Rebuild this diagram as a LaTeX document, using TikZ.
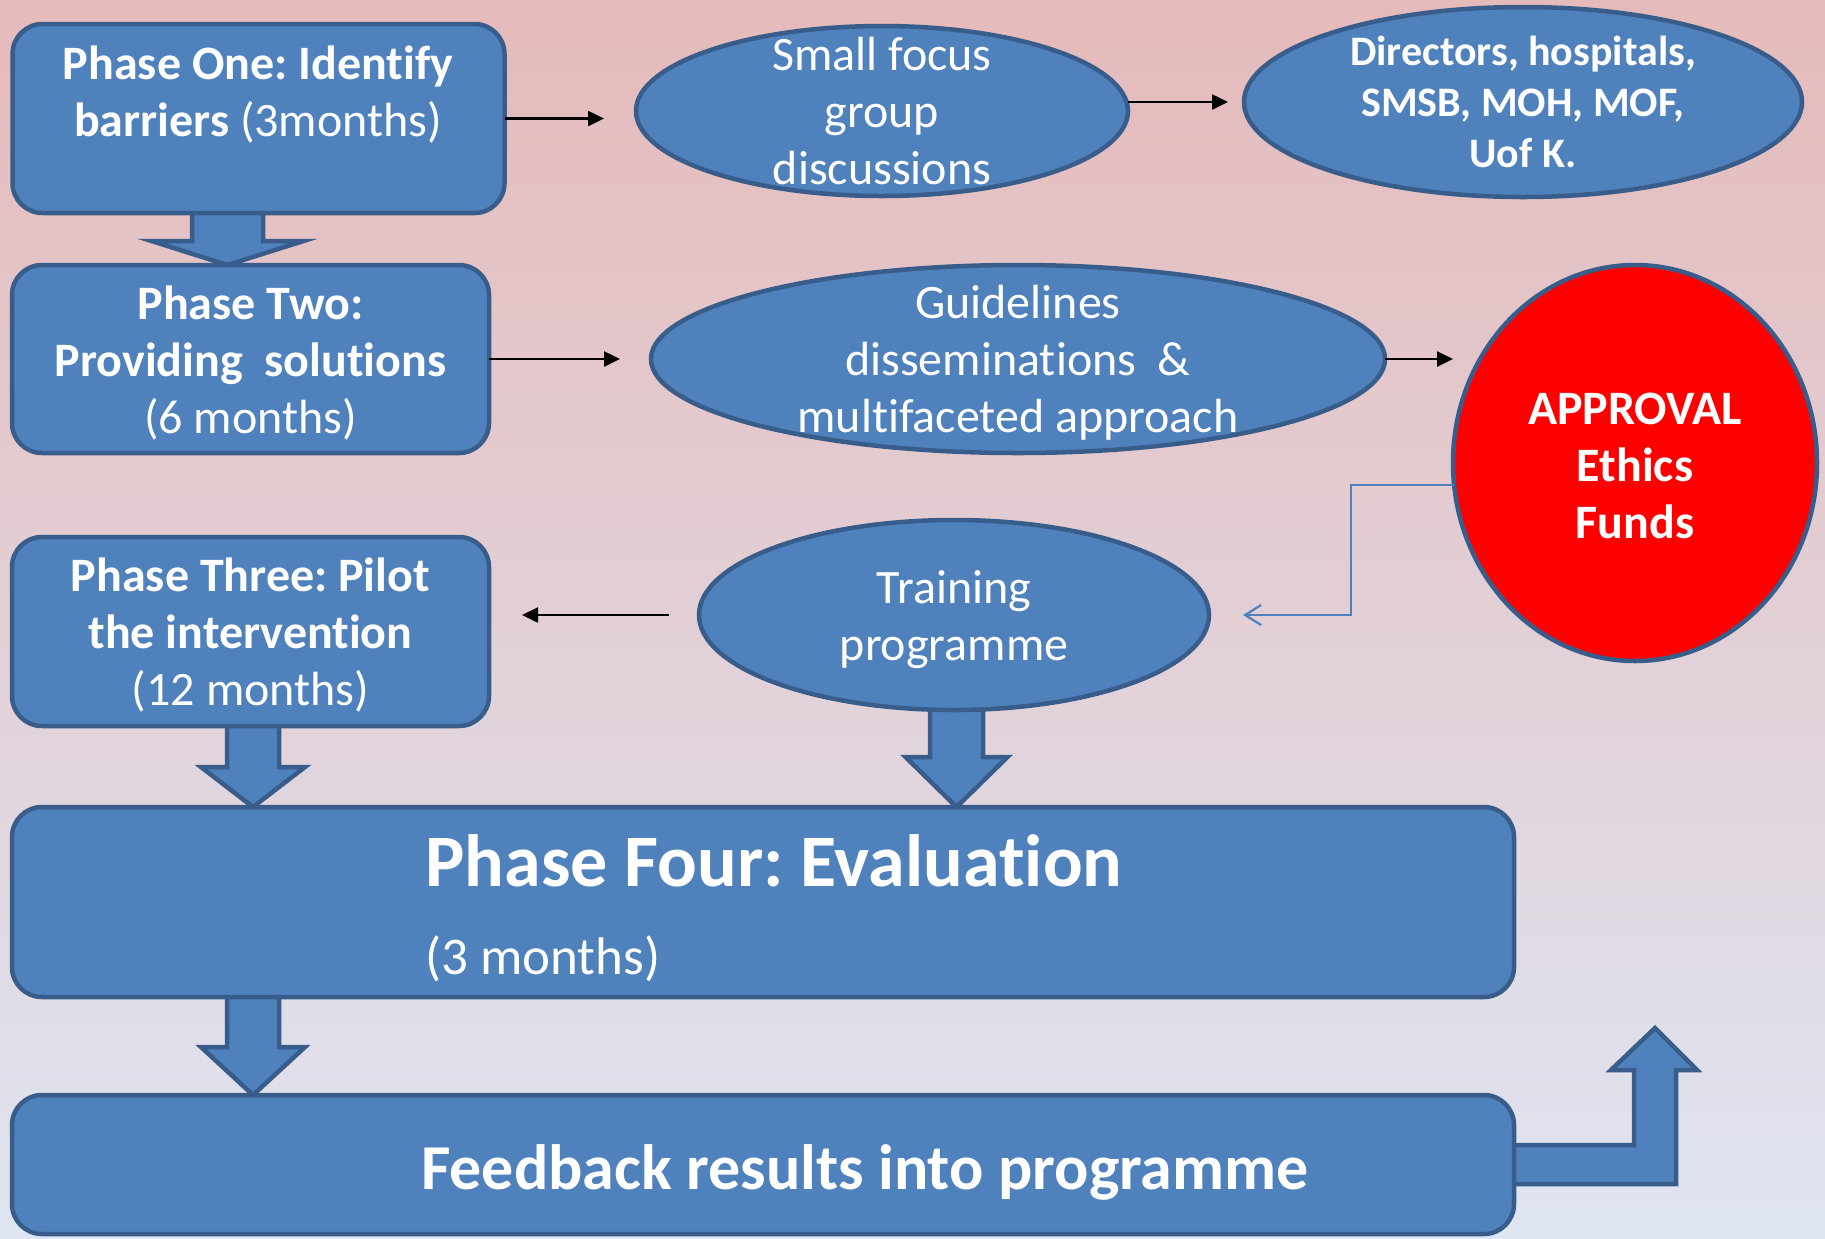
\documentclass[tikz,border=0pt]{standalone}
\usepackage{fontspec}
\setmainfont{Carlito}[Ligatures=CommonOff]
\frenchspacing
\usetikzlibrary{shapes.geometric,arrows.meta,calc}

\definecolor{boxblue}{HTML}{4F81BD}
\definecolor{boxline}{HTML}{385D8A}
\definecolor{bgtop}{HTML}{E5BABA}
\definecolor{bgmid}{HTML}{E3D5DB}
\definecolor{bgbot}{HTML}{DFE5F2}

\pgfdeclarelayer{backdrop}
\pgfdeclarelayer{under}
\pgfsetlayers{backdrop,under,main}

\tikzset{
  phase/.style={draw=boxline, fill=boxblue, line width=2.25pt, rounded corners=15pt,
    inner sep=0pt, outer sep=0pt},
  oval/.style={ellipse, draw=boxline, fill=boxblue, line width=2.25pt,
    inner sep=0pt, outer sep=0pt},
  txt/.style={text=white, align=center, inner sep=0pt,
    font=\fontsize{24}{28.5}\selectfont},
  fat/.style={draw=boxline, fill=boxblue, line width=2.25pt},
  link/.style={line width=1.25pt, -{Triangle[length=8pt,width=7.5pt]}},
  feed/.style={draw=boxblue, line width=1.1pt, -{Straight Barb[length=8pt,width=10pt]}}
}

% wide arrow going down: x, from, to, half shaft, half head, head length
\newcommand{\downblock}[6]{%
  \begin{pgfonlayer}{under}
    \path (#1,0 |- #2.south) coordinate (top) (#1,0 |- #3.north) coordinate (tip);
    \filldraw[fat] ($(top)+(-#4,0)$) -- ($(tip)+(-#4,-#6)$) -- ($(tip)+(-#5,-#6)$) -- (tip)
      -- ($(tip)+(#5,-#6)$) -- ($(tip)+(#4,-#6)$) -- ($(top)+(#4,0)$);
  \end{pgfonlayer}}

\begin{document}
\begin{tikzpicture}[x=0.5pt, y=-0.5pt]
  \begin{pgfonlayer}{backdrop}
    \shade[top color=bgtop, middle color=bgmid, bottom color=bgbot] (0,0) rectangle (1825,1238);
  \end{pgfonlayer}
  \useasboundingbox (0,0) rectangle (1825,1238);

  \node[phase, minimum width=246pt, minimum height=94.5pt] (p1) at (258.5,118.5) {};
  \node[txt] (p1text) at (258,94) {\textbf{Phase One: Identify}\\\textbf{barriers} (3months)};
  \node[phase, minimum width=238.5pt, minimum height=94pt] (p2) at (250.5,359) {};
  \node[txt] (p2text) at (250.5,362.5)
    {\textbf{Phase Two:}\\\textbf{Providing\ \ solutions}\\(6 months)};
  \node[phase, minimum width=238.5pt, minimum height=94.5pt] (p3) at (250.5,631.5) {};
  \node[txt] (p3text) at (250.5,635)
    {\textbf{Phase Three: Pilot}\\\textbf{the intervention}\\(12 months)};
  \node[phase, minimum width=751pt, minimum height=95pt] (p4) at (763,902) {};
  \node[txt, anchor=west, font=\bfseries\fontsize{37}{44}\selectfont] (p4title) at (425,861)
    {Phase Four: Evaluation};
  \node[txt, anchor=west, font=\fontsize{26.5}{31}\selectfont] (p4time) at (425,959) {(3 months)};
  \node[phase, minimum width=751pt, minimum height=69.5pt] (fb) at (763,1164.5) {};
  \node[txt, font=\bfseries\fontsize{32}{38}\selectfont] (fbtext) at (865,1172)
    {Feedback results into programme};

  \node[oval, minimum width=246pt, minimum height=85pt] (focus) at (882,111) {};
  \node[txt] at (focus) {Small focus\\group\\discussions};
  \node[oval, minimum width=279pt, minimum height=95pt] (dirs) at (1523,102) {};
  \node[txt, font=\bfseries\fontsize{21}{25.5}\selectfont] at (dirs)
    {Directors, hospitals,\\SMSB, MOH, MOF,\\Uof K.};
  \node[oval, minimum width=367pt, minimum height=94pt] (guide) at (1018,359) {};
  \node[txt] at (1018,362.5) {Guidelines\\disseminations\ \ \&\\multifaceted approach};
  \node[oval, minimum width=255pt, minimum height=95pt] (train) at (954,615) {};
  \node[txt] at (954,620) {Training\\programme};
  \node[oval, fill=red, minimum width=182pt, minimum height=198pt] (approval) at (1635,463) {};
  \node[txt, font=\bfseries\fontsize{24}{28.5}\selectfont] at (1635,465.5) {APPROVAL\\Ethics\\Funds};

  \downblock{227.5}{p1}{p2}{35.5}{76}{24}
  \downblock{253}{p3}{p4}{26}{52}{40}
  \downblock{253}{p4}{fb}{26}{52}{48}
  \downblock{956.5}{train}{p4}{26.5}{51}{50}
  \begin{pgfonlayer}{under}
    \filldraw[fat] ($(fb.east)+(0,-19.5)$) -- ++(120,0) -- ++(0,-75) -- ++(-23,0)
      -- ++(44,-42) -- ++(42,42) -- ++(-21,0) -- ++(0,114) -- ++(-162,0);
  \end{pgfonlayer}

  \draw[link, shorten >=16pt] (p1.east) -- (p1.east -| focus.west);
  \draw[link, shorten >=8pt] (focus.east |- dirs.west) -- (dirs.west);
  \draw[link, shorten >=15.5pt] (p2.east) -- (p2.east -| guide.west);
  \draw[link] (guide.east) -- (guide.east -| approval.west);
  \draw[link, shorten <=15pt, shorten >=16.5pt] (train.west) -- (train.west -| p3.east);
  \draw[feed, shorten >=17pt] (approval.187) -- ++(-103,0) |- (train.east);
\end{tikzpicture}
\end{document}
